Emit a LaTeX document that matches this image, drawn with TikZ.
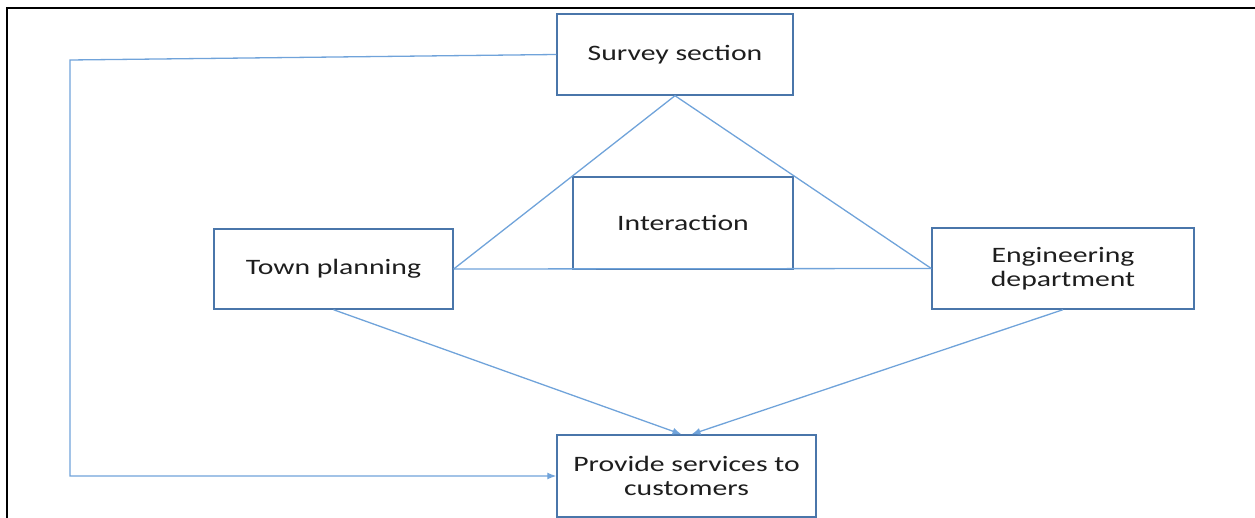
\documentclass[tikz,border=0pt]{standalone}
\usepackage{fontspec}
\setmainfont[FakeStretch=1.35]{Carlito}
\usetikzlibrary{arrows.meta}
\definecolor{boxc}{RGB}{74,118,170}
\definecolor{linec}{RGB}{112,163,218}
\definecolor{txt}{RGB}{30,30,30}
\tikzset{
  box/.style={draw=boxc, line width=1.4pt, fill=white, inner sep=0pt, align=center,
    text=txt, font=\fontsize{22}{24}\selectfont},
  conn/.style={draw=linec, line width=1.3pt},
  arr/.style={conn, -{Latex[length=9pt,width=7pt]}},
}
\begin{document}
\begin{tikzpicture}[x=1pt,y=-1pt]
\useasboundingbox (0,0) rectangle (1255,518);
\draw[line width=2.6pt, black] (7,518) -- (7,8) -- (1255,8);
\node[box, minimum width=236pt, minimum height=81pt] (surv) at (675,54.5) {Survey section};
\node[box, minimum width=220pt, minimum height=92pt] (inter) at (683,223) {Interaction};
\node[box, minimum width=239pt, minimum height=80pt] (town) at (333.5,269) {Town planning};
\node[box, minimum width=262pt, minimum height=81pt] (eng) at (1063,268.5) {Engineering\\department};
\node[box, minimum width=259pt, minimum height=82pt] (prov) at (686.5,476) {Provide services to\\customers};
\coordinate (c1) at (70,60);
\coordinate (c2) at (70,476);
\draw[conn] (surv.south) -- (town.east);
\draw[conn] (surv.south) -- (eng.west);
\draw[conn] (town.east) -- (eng.west);
\draw[arr] (surv.west) -- (c1) -- (c2) -- (prov.west);
\draw[arr] (town.south) -- ([xshift=-5pt]prov.north);
\draw[arr] (eng.south) -- ([xshift=5pt]prov.north);
\end{tikzpicture}
\end{document}
